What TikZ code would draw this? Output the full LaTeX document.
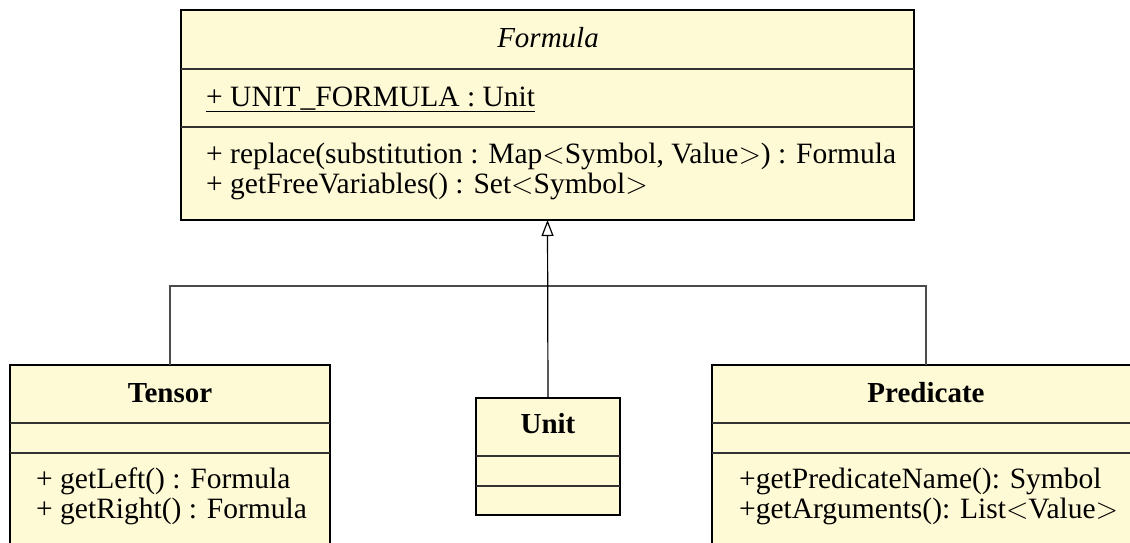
\documentclass[tikz,border=0pt]{standalone}
\usepackage{fix-cm}
\usepackage{fontspec}
\setmainfont{Liberation Serif}
\usetikzlibrary{arrows.meta}

\definecolor{classfill}{RGB}{255,250,214}
\tikzset{
    classbox/.style={draw, fill=classfill, line width=1.2pt, anchor=north west, inner sep=0pt, outer sep=0pt},
    divider/.style={line width=1.1pt, color=black!80},
    member/.style={anchor=base west, inner sep=0pt},
    classname/.style={anchor=base, inner sep=0pt, font=\fontsize{29}{30}\selectfont\bfseries},
    link/.style={line width=1.2pt, color=black!70},
}

\begin{document}
\begin{tikzpicture}[x=1pt, y=-1pt, font=\fontsize{29.5}{30}\selectfont]
    \useasboundingbox (0,0) rectangle (1130,542);
    \clip (0,0) rectangle (1130,542);

    % Formula
    \node [classbox, minimum width=733pt, minimum height=210pt] (formula) at (181,10) {};
    \draw [divider] (181,69) -- (914,69);
    \draw [divider] (181,127) -- (914,127);
    \node [classname, font=\fontsize{29}{30}\selectfont\itshape] (formula-name) at (548,47) {Formula};
    \node [member] (formula-attr) at (206,106) {\underline{+ UNIT\_FORMULA : Unit}};
    \node [member] (formula-op1) at (206,163) {+ replace(substitution : Map$<$Symbol, Value$>$) : Formula};
    \node [member] (formula-op2) at (206,193) {+ getFreeVariables() : Set$<$Symbol$>$};

    % Tensor
    \node [classbox, minimum width=320pt, minimum height=200pt] (tensor) at (10,365) {};
    \draw [divider] (10,423) -- (330,423);
    \draw [divider] (10,453) -- (330,453);
    \node [classname] (tensor-name) at (170,402) {Tensor};
    \node [member] (tensor-op1) at (36,488) {+ getLeft() : Formula};
    \node [member] (tensor-op2) at (36,518) {+ getRight() : Formula};

    % Unit
    \node [classbox, minimum width=144pt, minimum height=117pt] (unit) at (476,398) {};
    \draw [divider] (476,456) -- (620,456);
    \draw [divider] (476,486) -- (620,486);
    \node [classname] (unit-name) at (548,433) {Unit};

    % Predicate
    \node [classbox, minimum width=428pt, minimum height=200pt] (predicate) at (712,365) {};
    \draw [divider] (712,423) -- (1140,423);
    \draw [divider] (712,453) -- (1140,453);
    \node [classname] (predicate-name) at (926,402) {Predicate};
    \node [member] (predicate-op1) at (739,488) {+getPredicateName(): Symbol};
    \node [member] (predicate-op2) at (739,518) {+getArguments(): List$<$Value$>$};

    % generalisation
    \coordinate (fork) at (548,286);
    \draw [link] (tensor.north) |- (fork) -| (predicate.north);
    \draw [link, -{Triangle[open, length=16pt, width=12pt, line width=1.2pt]}, color=black] (unit.north) -- (formula.south);
\end{tikzpicture}
\end{document}
